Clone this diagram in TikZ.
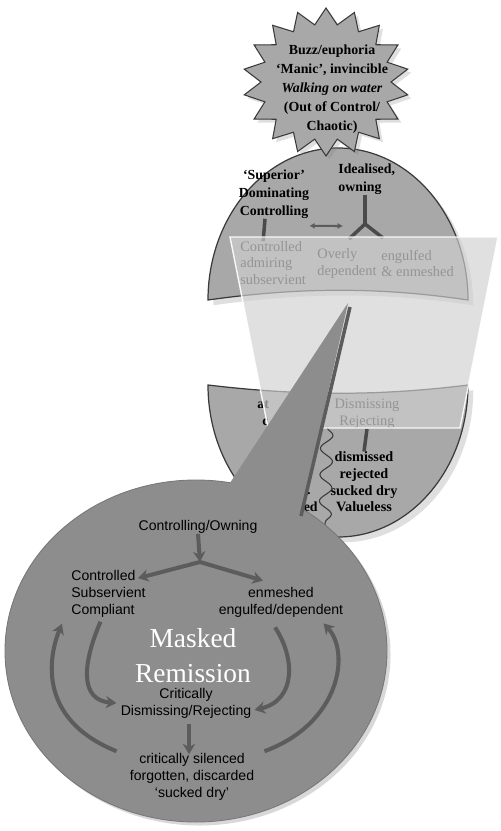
\documentclass[tikz,border=0pt]{standalone}
\usepackage{fontspec}
\setmainfont{Liberation Serif}
\setsansfont{Liberation Sans}
\usetikzlibrary{calc,arrows.meta,shapes.geometric,shadows,decorations.pathmorphing}
\definecolor{capgrey}{HTML}{A8A8A8}
\definecolor{bubgrey}{HTML}{8D8D8D}
\definecolor{inkgrey}{HTML}{3A3A3A}
\definecolor{arrgrey}{HTML}{5C5C5C}
\definecolor{lensgrey}{HTML}{D0D0D0}
\tikzset{
  capshape/.style={fill=capgrey, draw=inkgrey, line width=0.7pt,
    drop shadow={shadow xshift=3pt, shadow yshift=-3pt, opacity=0.25}},
  burstshape/.style={fill=capgrey, draw=inkgrey, line width=0.6pt,
    drop shadow={shadow xshift=2pt, shadow yshift=-2pt, opacity=0.25}},
  bursttext/.style={font=\fontsize{7.9}{10.9}\selectfont\bfseries, align=center, inner sep=0pt},
  boldlab/.style={font=\fontsize{7.9}{10.3}\selectfont\bfseries, align=center, inner sep=0pt},
  bandlab/.style={font=\fontsize{8.2}{9.4}\selectfont, align=left, inner sep=0pt, text=black!85},
  sanslab/.style={font=\sffamily\fontsize{8}{9.6}\selectfont, inner sep=0pt},
  masklab/.style={font=\fontsize{15.6}{20}\selectfont, text=white, align=center, inner sep=0pt},
  capline/.style={draw=arrgrey!80!black, line width=2pt},
  twoway/.style={draw=arrgrey, line width=1.2pt, {Latex[length=3pt,width=3.5pt]}-{Latex[length=3pt,width=3.5pt]}},
  flow/.style={draw=arrgrey, line width=2.3pt, -{Stealth[length=6pt,width=7pt]}},
  overlay/.style={fill=lensgrey, fill opacity=0.65, draw=white, draw opacity=0.9, line width=0.8pt}
}
\begin{document}
\begin{tikzpicture}[x=0.02cm, y=-0.02cm]
\useasboundingbox (0,0) rectangle (500,831);
\fill[white] (0,0) rectangle (500,831);

% upper cap and lower bowl
\draw[capshape] (208,300) arc[start angle=180, end angle=360, x radius=130, y radius=152]
  .. controls (380,287) and (300,287) .. (208,300) -- cycle;
\draw[capshape] (208,385) .. controls (300,396) and (380,396) .. (468,385)
  arc[start angle=0, end angle=180, x radius=130, y radius=152] -- cycle;

% the burst
\coordinate (burstc) at (326,82);
\draw[burstshape] ($(burstc)+(90:83 and 74)$)
  \foreach \k in {1,...,35} { -- ($(burstc)+({90+\k*10}:{83-18*mod(\k,2)} and {74-16*mod(\k,2)})$) } -- cycle;
\node[bursttext] (bursttxt) at (332,89) {Buzz/euphoria\\‘Manic’, invincible\\\textit{Walking on water}\\(Out of Control/\\Chaotic)};

% cap labels
\node[boldlab] (sup) at (274,194) {‘Superior’\\Dominating\\Controlling};
\node[boldlab, align=left, anchor=west] (ideal) at (338,179) {Idealised,\\owning};
\node[bandlab, anchor=west] (ctl) at (240,263) {Controlled\\admiring\\subservient};
\node[bandlab, anchor=west] (ovr) at (317,263.5) {Overly\\dependent};
\node[bandlab, anchor=west] (eng) at (381,263.5) {engulfed\\\& enmeshed};
\coordinate (yfork) at (365,224);

\draw[capline] ($(sup.south)+(-9,0)$) -- ($(ctl.north)+(-10,0)$);
\draw[twoway] ($(sup.south east)+(0,7)$) -- ($(yfork)+(-22,2)$);
\draw[capline] (yfork |- ideal.south) -- (yfork);
\draw[capline] ($(yfork)+(-16,15)$) -- (yfork) -- ($(yfork)+(18,14)$);

% bowl labels
\node[bandlab, align=center] (dis) at (367,414) {Dismissing\\Rejecting};
\node[boldlab, anchor=west] (atx) at (257,405) {at};
\node[boldlab, anchor=west] (cx) at (262,422) {c};
\node[boldlab, font=\fontsize{8.1}{9.5}\selectfont\bfseries] (val) at (364,482) {dismissed\\rejected\\sucked dry\\Valueless};
\node[boldlab, anchor=east] (dx) at (311,490) {d.};
\node[boldlab, anchor=east] (tedx) at (318,507) {ted};
\draw[capline] (dis.south) -- (val.north);
\draw[inkgrey, line width=0.6pt, decorate, decoration={snake, amplitude=3.5pt, segment length=15pt}]
  (327,427) -- (325,528);

% see-through lens
\path[overlay] (230,237) -- (498,237) -- (460,428) -- (268,428) -- cycle;

% speech bubble
\draw[fill=bubgrey, draw=bubgrey!85!black, line width=0.5pt,
  drop shadow={shadow xshift=2pt, shadow yshift=-2pt, opacity=0.3}]
  (196,651) ellipse [x radius=191, y radius=171];
\fill[bubgrey] (228,486) -- (348,303) -- (300,518) -- cycle;
\draw[arrgrey, line width=2pt] (350,307) -- (301,516);

\node[sanslab] (ctrl) at (198,527) {Controlling/Owning};
\coordinate (fork) at (200,562);
\node[sanslab, align=left, anchor=west] (subs) at (71,594) {Controlled\\Subservient\\Compliant};
\node[sanslab, align=center] (enm) at (281,602) {enmeshed\\engulfed/dependent};
\node[masklab] (mask) at (193,656) {Masked\\Remission};
\node[sanslab, align=center] (crit) at (186,703) {Critically\\Dismissing/Rejecting};
\node[sanslab, align=center] (sil) at (192,777) {critically silenced\\forgotten, discarded\\‘sucked dry’};

\draw[flow] (ctrl.south) -- (fork);
\draw[flow] (fork) -- ($(subs.north east)+(-8,8)$);
\draw[flow] (fork) -- ($(enm.north)+(-18,-6)$);
\draw[flow] ($(subs.south)+(-8,4)$) .. controls +(-18,42) and +(-37,-3) .. ($(crit.west)+(-4,0)$);
\draw[flow] ($(sil.north west)+(-13,-2)$) .. controls +(-82,-33) and +(-12,29) .. ($(subs.south west)+(-9,6)$);
\draw[flow] ($(enm.south)+(-6,10)$) .. controls +(20,30) and +(42,-10) .. ($(crit.east)+(3,7)$);
\draw[flow] ($(sil.north east)+(10,-2)$) .. controls +(76,-28) and +(27,29) .. ($(enm.south east)+(-20,6)$);
\draw[flow] ($(crit.south)+(3,6)$) -- ($(crit.south)+(3,36)$);
\end{tikzpicture}
\end{document}
